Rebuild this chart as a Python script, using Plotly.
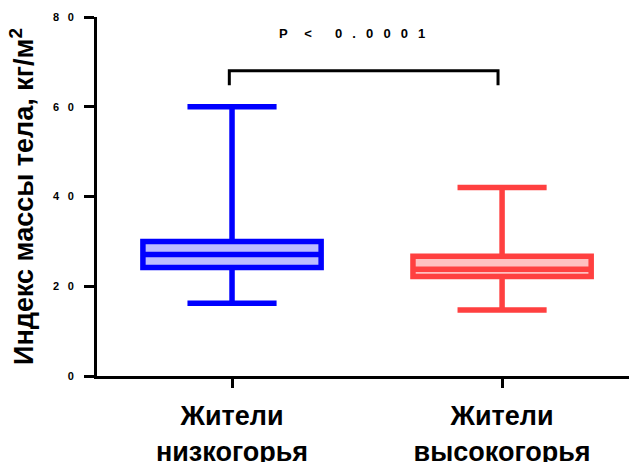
import plotly.graph_objects as go

# Body mass index by group (box plot summary statistics)
groups = ["Жители<br>низкогорья", "Жители<br>высокогорья"]
q1_vals = [24.2, 22.2]
median_vals = [27.1, 23.8]
q3_vals = [30.0, 26.7]
lower_vals = [16.2, 14.7]
upper_vals = [60.0, 42.0]

line_colors = ["#0000ff", "#ff4040"]
fill_colors = ["#bcbcff", "#ffc0c0"]

GAP = "\u2002\u00a0"  # wide letter spacing used in the small labels
WIDE = "\u2003\u00a0"
y_ticks = [0, 20, 40, 60, 80]
y_tick_text = ["0", f"2{GAP}0", f"4{GAP}0", f"6{GAP}0", f"8{GAP}0"]

p_label = "P" + WIDE + "&lt;" + WIDE + "\u2002" + GAP.join(["0", ".", "0", "0", "0", "1"])

fig = go.Figure()
for i, g in enumerate(groups):
    fig.add_trace(go.Box(
        x=[i],
        q1=[q1_vals[i]],
        median=[median_vals[i]],
        q3=[q3_vals[i]],
        lowerfence=[lower_vals[i]],
        upperfence=[upper_vals[i]],
        width=0.66,
        whiskerwidth=0.5,
        line=dict(color=line_colors[i], width=5.5),
        fillcolor=fill_colors[i],
        boxpoints=False,
        showlegend=False,
        name=g,
    ))

# significance bracket between the two groups
br_top = 68
br_leg = 64.8
fig.add_shape(type="path",
              path=f"M -0.01,{br_leg} L -0.01,{br_top} L 0.985,{br_top} L 0.985,{br_leg}",
              line=dict(color="black", width=3), xref="x", yref="y")
fig.add_annotation(x=0.445, y=76.3, xref="x", yref="y", text=p_label,
                   showarrow=False,
                   font=dict(family="Liberation Sans, Arial", size=13, color="black", weight="bold"))

fig.update_layout(
    width=629, height=462,
    margin=dict(l=97, r=0, t=17, b=86),
    plot_bgcolor="white", paper_bgcolor="white",
    font=dict(family="Liberation Sans, Arial", color="black"),
    xaxis=dict(
        range=[-0.5, 1.47],
        tickvals=[0, 1], ticktext=groups,
        showline=True, linewidth=3, linecolor="black",
        ticks="outside", ticklen=9, tickwidth=3, tickcolor="black",
        ticklabelstandoff=5, automargin=False,
        showgrid=False, zeroline=False,
        tickfont=dict(size=27, color="black", weight="bold"),
    ),
    yaxis=dict(
        range=[0, 80],
        tickvals=y_ticks, ticktext=y_tick_text,
        showline=True, linewidth=3, linecolor="black",
        ticks="outside", ticklen=10, tickwidth=3, tickcolor="black",
        ticklabelstandoff=8, automargin=False,
        showgrid=False, zeroline=False,
        tickfont=dict(size=11, color="black", weight="bold"),
        title=dict(text="Индекс массы тела, кг/м<sup>2</sup>",
                   font=dict(size=27, color="black", weight="bold"), standoff=12),
    ),
)

fig.write_html("out.html")
